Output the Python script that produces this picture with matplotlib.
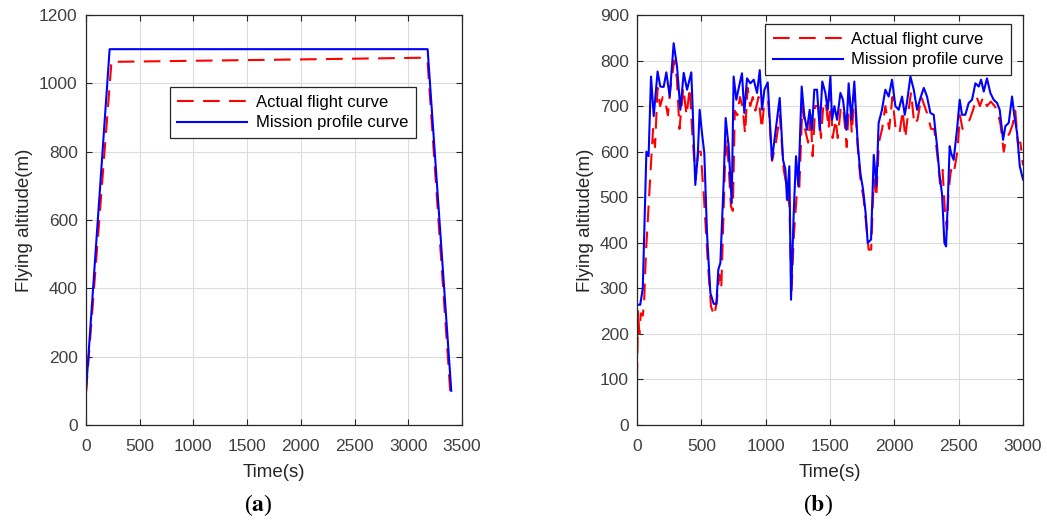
import numpy as np
import matplotlib
matplotlib.use("Agg")
import matplotlib.pyplot as plt

# (a) takeoff - cruise - landing profile
time_a_mission = [0, 220, 3180, 3400]
alt_a_mission = [100, 1100, 1100, 100]
time_a_actual = [0, 235, 260, 280, 1000, 2000, 3150, 3180, 3390]
alt_a_actual = [95, 1055, 1068, 1063, 1066, 1070, 1075, 1062, 100]

# (b) terrain following profile
time_b_mission = [0, 25, 45, 73, 90, 109, 130, 160, 181, 207, 228, 254, 285, 311,
                  337, 363, 389, 422, 433, 453, 472, 487, 505, 523, 544, 570, 596,
                  617, 632, 648, 674, 689, 712, 736, 751, 772, 793, 816, 834, 855,
                  881, 907, 933, 954, 972, 990, 1016, 1049, 1075, 1109, 1135, 1153,
                  1166, 1184, 1197, 1218, 1236, 1254, 1280, 1300, 1321, 1342, 1360,
                  1378, 1399, 1420, 1440, 1464, 1482, 1503, 1516, 1534, 1555, 1581,
                  1601, 1627, 1645, 1666, 1689, 1715, 1736, 1757, 1777, 1793, 1819,
                  1840, 1861, 1878, 1904, 1930, 1956, 1982, 2008, 2034, 2060, 2081,
                  2099, 2125, 2151, 2177, 2203, 2229, 2254, 2280, 2306, 2332, 2350,
                  2371, 2389, 2402, 2415, 2430, 2441, 2461, 2487, 2508, 2526, 2552,
                  2578, 2604, 2630, 2656, 2674, 2695, 2720, 2746, 2772, 2798, 2819,
                  2845, 2863, 2889, 2915, 2933, 2954, 2975, 3000]
alt_b_mission = [264, 264, 300, 600, 590, 765, 678, 776, 743, 742, 774, 721, 838, 787,
                 692, 773, 736, 774, 692, 527, 590, 692, 641, 597, 421, 290, 266,
                 266, 341, 356, 538, 674, 612, 487, 765, 714, 743, 772, 685, 761,
                 750, 758, 729, 779, 692, 736, 752, 582, 641, 718, 582, 561,
                 494, 568, 275, 465, 590, 524, 743, 680, 648, 692, 648,
                 736, 736, 648, 754, 729, 692, 765, 670, 700, 670, 729,
                 714, 648, 750, 670, 754, 619, 553, 517, 465, 400, 407,
                 593, 524, 663, 692, 736, 721, 758, 700, 692, 721, 681,
                 710, 765, 736, 692, 718, 740, 721, 685, 681, 612, 553,
                 506, 400, 392, 487, 612, 597, 582, 648, 714, 681, 681,
                 707, 714, 750, 743, 758, 732, 761, 729, 714, 707, 692,
                 626, 656, 663, 721, 678, 641, 568, 539]

time_b_actual = [0, 8, 18, 30, 45, 55, 70, 90, 110, 125, 140, 160, 180, 200, 220,
                 240, 260, 290, 310, 330, 360, 385, 410, 430, 455, 475, 495, 520,
                 550, 575, 600, 620, 640, 655, 670, 690, 710, 730, 745, 760, 780,
                 800, 820, 840, 860, 880, 900, 920, 945, 970, 990, 1020, 1050, 1080,
                 1110, 1140, 1160, 1185, 1200, 1220, 1240, 1260, 1285, 1305, 1330,
                 1350, 1365, 1385, 1410, 1430, 1450, 1470, 1490, 1505, 1520, 1545,
                 1560, 1585, 1605, 1630, 1650, 1670, 1690, 1720, 1740, 1760, 1785,
                 1800, 1820, 1840, 1860, 1880, 1905, 1930, 1960, 1985, 2010, 2040,
                 2065, 2085, 2105, 2130, 2155, 2180, 2210, 2235, 2260, 2285, 2310,
                 2335, 2355, 2375, 2395, 2410, 2420, 2440, 2460, 2490, 2510, 2530,
                 2560, 2585, 2610, 2640, 2665, 2690, 2720, 2750, 2780, 2800, 2825,
                 2850, 2870, 2895, 2920, 2940, 2960, 2980, 3000]
alt_b_actual = [100, 250, 200, 245, 240, 270, 380, 480, 580, 650, 610, 740, 700, 720,
                710, 680, 740, 800, 760, 650, 740, 680, 740, 640, 540, 600, 600, 500,
                360, 260, 240, 270, 330, 300, 440, 630, 580, 480, 470, 690, 680,
                720, 700, 640, 740, 700, 720, 690, 720, 650, 710, 710, 580, 620,
                680, 560, 530, 480, 290, 420, 500, 510, 700, 650, 620,
                680, 590, 700, 700, 630, 710, 700, 650, 730, 630, 670,
                630, 700, 690, 610, 720, 640, 730, 590, 530, 500, 430,
                385, 385, 540, 500, 620, 650, 700, 650, 720, 650, 640,
                690, 630, 680, 730, 660, 670, 720, 700, 680, 650, 650,
                590, 530, 560, 460, 430, 510, 560, 550, 600, 680, 650,
                660, 670, 690, 720, 700, 720, 700, 710, 700, 690, 660,
                600, 630, 640, 660, 690, 620, 620, 570]

legend_labels = ["Actual flight curve", "Mission profile curve"]

tick_color = "#404040"
spine_color = "#262626"
dash = (0, (8, 4.5))

plt.rcParams["font.family"] = ["Liberation Sans", "DejaVu Sans"]
plt.rcParams["mathtext.fontset"] = "stix"

fig = plt.figure(figsize=(10.47, 5.21), dpi=100)
ax_a = fig.add_axes([86 / 1047, 96 / 521, 376 / 1047, 410 / 521])
ax_b = fig.add_axes([637 / 1047, 96 / 521, 386 / 1047, 410 / 521])


def style_axes(ax):
    ax.grid(True, color="#dcdcdc", linewidth=0.8)
    ax.set_axisbelow(True)
    for s in ax.spines.values():
        s.set_color(spine_color)
        s.set_linewidth(0.9)
    ax.tick_params(direction="in", length=4, width=0.8, colors=spine_color,
                   labelcolor=tick_color, labelsize=12.5, top=True, right=True)
    ax.tick_params(axis="x", pad=10)
    ax.tick_params(axis="y", pad=6)
    ax.set_xlabel("Time(s)", fontsize=13.5, color=spine_color, labelpad=7)
    ax.set_ylabel("Flying altitude(m)", fontsize=13.5, color=spine_color, labelpad=4)


def add_legend(ax, loc, anchor):
    leg = ax.legend(loc=loc, bbox_to_anchor=anchor, borderaxespad=0,
                    fontsize=12, handlelength=4.2, fancybox=False, framealpha=1,
                    edgecolor=spine_color, borderpad=0.45, labelspacing=0.35,
                    handletextpad=0.5)
    leg.get_frame().set_linewidth(0.9)
    return leg


# panel (a)
ax_a.plot(time_a_actual, alt_a_actual, color="#ff0000", linestyle=dash,
          linewidth=1.5, label=legend_labels[0])
ax_a.plot(time_a_mission, alt_a_mission, color="#0000ff", linewidth=1.5,
          label=legend_labels[1])
ax_a.set_xlim(0, 3500)
ax_a.set_ylim(0, 1200)
ax_a.set_xticks(np.arange(0, 3501, 500))
ax_a.set_yticks(np.arange(0, 1201, 200))
style_axes(ax_a)
add_legend(ax_a, "upper left", (0.223, 0.824))

# panel (b)
ax_b.plot(time_b_actual, alt_b_actual, color="#ff0000", linestyle=dash,
          linewidth=1.5, label=legend_labels[0])
ax_b.plot(time_b_mission, alt_b_mission, color="#0000ff", linewidth=1.5,
          label=legend_labels[1])
ax_b.set_xlim(0, 3000)
ax_b.set_ylim(0, 900)
ax_b.set_xticks(np.arange(0, 3001, 500))
ax_b.set_yticks(np.arange(0, 901, 100))
style_axes(ax_b)
add_legend(ax_b, "upper right", (0.969, 0.978))

# captions
fig.text(258 / 1047, 1 - 505 / 521, r"($\mathbf{a}$)", ha="center", va="center",
         fontsize=17, family="Liberation Serif")
fig.text(818 / 1047, 1 - 505 / 521, r"($\mathbf{b}$)", ha="center", va="center",
         fontsize=17, family="Liberation Serif")

fig.savefig("out.png", dpi=100)
